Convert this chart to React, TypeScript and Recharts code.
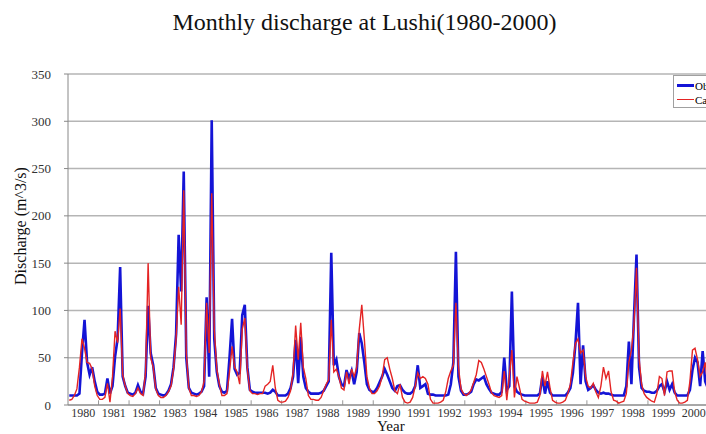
import { LineChart, Line, XAxis, YAxis, CartesianGrid, ReferenceLine } from 'recharts';

const years = [1980, 1981, 1982, 1983, 1984, 1985, 1986, 1987, 1988, 1989, 1990,
  1991, 1992, 1993, 1994, 1995, 1996, 1997, 1998, 1999, 2000];

// monthly values, one row per year (Jan..Dec)
const observed = [
  10, 10, 10, 10, 12, 55, 90, 45, 32, 40, 25, 14,
  11, 11, 12, 28, 12, 20, 51, 70, 146, 30, 20, 13,
  12, 11, 13, 21, 14, 12, 30, 105, 55, 42, 18, 12,
  11, 10, 11, 15, 22, 40, 75, 180, 120, 247, 50, 18,
  13, 12, 11, 12, 14, 20, 114, 30, 301, 70, 35, 20,
  14, 13, 15, 50, 91, 38, 32, 34, 95, 106, 40, 16,
  14, 13, 13, 13, 13, 13, 12, 13, 16, 14, 10, 10,
  10, 10, 12, 18, 30, 69, 23, 72, 30, 18, 14, 12,
  12, 12, 12, 13, 15, 20, 25, 161, 42, 48, 30, 22,
  20, 37, 28, 36, 22, 35, 76, 65, 45, 22, 16, 14,
  14, 18, 24, 30, 38, 32, 25, 18, 15, 20, 21, 16,
  13, 12, 12, 14, 20, 42, 18, 20, 22, 12, 11, 11,
  10, 10, 10, 10, 10, 11, 22, 45, 162, 30, 15, 11,
  11, 12, 14, 22, 27, 26, 28, 30, 22, 17, 13, 12,
  11, 11, 14, 50, 16, 20, 120, 20, 14, 12, 11, 10,
  10, 10, 10, 10, 10, 12, 30, 12, 25, 13, 10, 10,
  10, 10, 10, 10, 13, 18, 34, 65, 108, 22, 63, 25,
  16, 18, 21, 16, 13, 12, 13, 12, 12, 11, 10, 10,
  10, 10, 10, 20, 67, 22, 93, 159, 40, 18, 15, 14,
  14, 13, 13, 15, 20, 22, 14, 25, 16, 22, 13, 10,
  10, 10, 10, 10, 16, 37, 50, 45, 20, 57, 25, 18,
];

const calculated = [
  5, 6, 10, 17, 40, 70, 60, 45, 44, 38, 20, 10,
  6, 6, 8, 23, 3, 30, 78, 66, 102, 32, 20, 12,
  10, 9, 12, 18, 12, 10, 35, 150, 50, 40, 17, 10,
  8, 8, 10, 14, 20, 38, 70, 125, 85, 227, 55, 18,
  10, 10, 9, 10, 14, 25, 108, 55, 224, 80, 38, 22,
  10, 10, 12, 35, 62, 40, 35, 22, 80, 92, 38, 15,
  12, 12, 11, 12, 12, 20, 22, 25, 42, 18, 5, 3,
  3, 4, 8, 15, 35, 84, 48, 87, 40, 28, 10, 6,
  6, 5, 5, 8, 15, 22, 27, 90, 35, 38, 30, 18,
  16, 35, 22, 38, 30, 40, 80, 106, 70, 30, 18, 12,
  12, 15, 20, 30, 48, 50, 38, 28, 15, 12, 22, 8,
  3, 2, 3, 8, 20, 34, 28, 30, 28, 22, 6, 2,
  2, 2, 3, 5, 14, 28, 36, 42, 108, 40, 17, 12,
  10, 12, 16, 24, 32, 47, 45, 38, 30, 22, 13, 10,
  9, 8, 10, 36, 5, 30, 58, 8, 30, 18, 6, 4,
  3, 2, 2, 2, 3, 10, 36, 20, 35, 18, 5, 3,
  2, 2, 3, 5, 12, 22, 45, 65, 70, 55, 58, 30,
  20, 18, 23, 14, 8, 20, 40, 28, 36, 14, 5, 4,
  2, 3, 4, 12, 45, 58, 85, 145, 50, 22, 12, 8,
  6, 4, 3, 12, 30, 28, 10, 35, 36, 36, 14, 5,
  2, 2, 3, 5, 25, 58, 60, 48, 30, 35, 45, 22,
];

const yTicks = [0, 50, 100, 150, 200, 250, 300, 350];

const serif = '"Liberation Serif", "Times New Roman", serif';

export default function App() {
  const chartData = observed.map((v, i) => ({
    t: i + 0.5,
    observed: v,
    calculated: calculated[i]
  }));
  const labelTicks = years.map((_, i) => i * 12 + 6);
  const boundaries = years.slice(1).map((_, i) => (i + 1) * 12);

  return <div style={{ position: 'relative', width: 706, height: 434, overflow: 'hidden', background: '#fff', fontFamily: serif }}>
      <style>{'body{margin:0}'}</style>
      <div style={{ position: 'absolute', left: 0, width: 729, top: 8, textAlign: 'center', fontSize: 24, color: '#111', lineHeight: 1.2 }}>
        Monthly discharge at Lushi(1980-2000)
      </div>
      <LineChart width={712} height={434} data={chartData} margin={{
      top: 74,
      right: 3,
      left: 28,
      bottom: 9
    }}>
        <CartesianGrid horizontal vertical={false} stroke="#b5b5b5" strokeWidth={1.5} />
        <XAxis dataKey="t" type="number" domain={[0, 252]} ticks={labelTicks} interval={0}
          tickFormatter={v => String(years[Math.floor(v / 12)])} tickLine={false} tickSize={1}
          axisLine={{ stroke: '#888' }} height={20}
          tick={{ fontSize: 12, fill: '#333', fontFamily: serif }} />
        <YAxis domain={[0, 350]} ticks={yTicks} interval={0} width={40} tickSize={4} tickMargin={13}
          axisLine={{ stroke: '#888' }} tickLine={{ stroke: '#888' }}
          tick={{ fontSize: 13, fill: '#333', fontFamily: serif }} />
        {boundaries.map(b => <ReferenceLine key={b} segment={[{ x: b, y: 0 }, { x: b, y: 5 }]} stroke="#999" ifOverflow="visible" />)}
        <Line type="linear" dataKey="observed" stroke="#1414d6" strokeWidth={2.6} dot={false} isAnimationActive={false} />
        <Line type="linear" dataKey="calculated" stroke="#e42424" strokeWidth={1.4} dot={false} isAnimationActive={false} />
      </LineChart>
      <div style={{ position: 'absolute', left: 4, top: 226, width: 0, height: 0 }}>
        <div style={{ position: 'absolute', transform: 'translate(-50%, -50%) rotate(-90deg)', left: 17, whiteSpace: 'nowrap', fontSize: 16, color: '#111' }}>
          Discharge (m^3/s)
        </div>
      </div>
      <div style={{ position: 'absolute', left: 377, top: 420, fontSize: 15, lineHeight: 0.9, color: '#111' }}>Year</div>
      <div style={{ position: 'absolute', left: 673, top: 75, width: 80, height: 31, border: '1px solid #a0a0a0', background: '#fff', fontSize: 11 }}>
        <div style={{ display: 'flex', alignItems: 'center', height: 15, marginTop: 2 }}>
          <span style={{ display: 'inline-block', width: 17, height: 2.5, background: '#1414d6', marginLeft: 3 }} />
          <span style={{ marginLeft: 1 }}>Observed</span>
        </div>
        <div style={{ display: 'flex', alignItems: 'center', height: 13 }}>
          <span style={{ display: 'inline-block', width: 17, height: 1.4, background: '#e42424', marginLeft: 3 }} />
          <span style={{ marginLeft: 1 }}>Calculated</span>
        </div>
      </div>
    </div>;
}
